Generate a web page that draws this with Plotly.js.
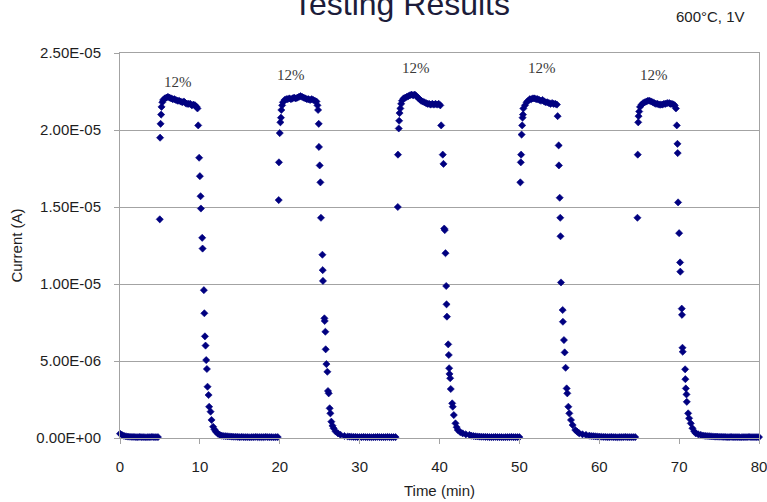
<!DOCTYPE html>
<html>
<head>
<meta charset="utf-8">
<script src="https://cdn.plot.ly/plotly-3.0.1.min.js"></script>
<style>
  html, body { margin: 0; padding: 0; background: #ffffff; }
  #chart { width: 767px; height: 502px; }
</style>
</head>
<body>
<div id="chart"></div>
<script>
// Sensor current under five 12% gas pulses at 600°C, 1V bias.
// Each cycle: baseline, gas on (rise + plateau), gas off (decay) and recovery.

const cycle1Time = [0,0.25,0.5,0.75,1,1.25,1.5,1.75,2,2.25,2.5,2.75,3,3.25,3.5,3.75,4,4.25,4.5,4.75,
  4.98,5.02,5.08,
  5.15,5.2,5.3,5.4,5.6,5.8,6.0,6.2,6.4,6.6,6.8,7.0,7.2,7.4,7.6,7.8,8.0,8.2,8.4,8.6,8.8,9.0,9.2,9.4,9.6,9.7,
  9.79,9.91,10.0,10.09,10.13,10.29,10.34,10.5,10.56,10.63,10.71,10.79,10.88,10.96,11.09,11.16,11.34,11.46,11.66,11.83,12.0,12.25,12.5,
  12.75,13,13.25,13.5,13.75,14,14.25,14.5,14.75];
const cycle1Current = [2.8e-7,2.0e-7,1.4e-7,1.1e-7,9e-8,8e-8,7e-8,7e-8,6e-8,6e-8,7e-8,6e-8,6e-8,5e-8,6e-8,6e-8,7e-8,6e-8,6e-8,6e-8,
  1.42e-5,1.95e-5,2.04e-5,
  2.10e-5,2.15e-5,2.18e-5,2.195e-5,2.205e-5,2.21e-5,2.215e-5,2.21e-5,2.205e-5,2.20e-5,2.20e-5,2.195e-5,2.19e-5,2.19e-5,2.185e-5,2.18e-5,2.185e-5,2.175e-5,2.17e-5,2.17e-5,2.17e-5,2.16e-5,2.165e-5,2.16e-5,2.15e-5,2.14e-5,
  2.03e-5,1.82e-5,1.70e-5,1.57e-5,1.49e-5,1.30e-5,1.23e-5,9.6e-6,8.1e-6,6.6e-6,6.0e-6,5.06e-6,4.48e-6,3.33e-6,2.79e-6,2.03e-6,1.71e-6,1.17e-6,7.3e-7,5.5e-7,4.1e-7,2.8e-7,2.0e-7,
  1.5e-7,1.3e-7,1.2e-7,1.1e-7,1.0e-7,9e-8,8e-8,8e-8,7e-8];

const cycle2Time = [15,15.25,15.5,15.75,16,16.25,16.5,16.75,17,17.25,17.5,17.75,18,18.25,18.5,18.75,19,19.25,19.5,19.75,
  19.87,19.9,20.0,20.08,20.15,
  20.2,20.3,20.4,20.6,20.8,21.0,21.2,21.4,21.6,21.8,22.0,22.2,22.4,22.6,22.8,23.0,23.2,23.4,23.6,23.8,24.0,24.2,24.4,24.6,24.72,24.8,
  24.88,24.91,25.0,25.09,25.16,25.34,25.38,25.41,25.59,25.63,25.71,25.75,25.84,25.96,26.04,26.13,26.25,26.34,26.46,26.6,26.75,27.0,27.29,27.6,28.1,
  28.5,28.75,29,29.25,29.5,29.75];
const cycle2Current = [6e-8,7e-8,6e-8,6e-8,6e-8,5e-8,6e-8,6e-8,7e-8,6e-8,6e-8,6e-8,6e-8,7e-8,6e-8,6e-8,6e-8,5e-8,6e-8,6e-8,
  1.545e-5,1.79e-5,1.98e-5,2.05e-5,2.08e-5,
  2.13e-5,2.16e-5,2.18e-5,2.195e-5,2.20e-5,2.20e-5,2.205e-5,2.20e-5,2.205e-5,2.21e-5,2.205e-5,2.21e-5,2.215e-5,2.22e-5,2.215e-5,2.21e-5,2.205e-5,2.20e-5,2.20e-5,2.195e-5,2.20e-5,2.195e-5,2.19e-5,2.185e-5,2.16e-5,2.13e-5,
  2.04e-5,1.89e-5,1.77e-5,1.66e-5,1.43e-5,1.19e-5,1.09e-5,1.02e-5,7.77e-6,7.6e-6,6.9e-6,5.76e-6,4.8e-6,4.3e-6,3.05e-6,2.9e-6,1.93e-6,1.6e-6,1.06e-6,8.0e-7,6.3e-7,4.2e-7,3.0e-7,2.1e-7,1.3e-7,
  1.0e-7,9e-8,8e-8,7e-8,7e-8,6e-8];

const cycle3Time = [30,30.25,30.5,30.75,31,31.25,31.5,31.75,32,32.25,32.5,32.75,33,33.25,33.5,33.75,34,34.25,34.5,
  34.78,34.8,34.9,34.95,35.0,
  35.1,35.2,35.3,35.5,35.7,35.9,36.1,36.3,36.5,36.7,36.9,37.1,37.3,37.5,37.7,37.9,38.1,38.3,38.5,38.7,38.9,39.1,39.3,39.5,39.7,39.9,40.1,
  40.21,40.41,40.5,40.59,40.66,40.75,40.84,40.88,40.93,41.09,41.16,41.21,41.25,41.34,41.41,41.59,41.66,41.79,42.0,42.15,42.29,42.6,42.91,43.3,43.75,
  44,44.25,44.5,44.75];
const cycle3Current = [6e-8,6e-8,7e-8,6e-8,6e-8,6e-8,5e-8,6e-8,6e-8,7e-8,6e-8,6e-8,6e-8,6e-8,7e-8,6e-8,6e-8,6e-8,6e-8,
  1.50e-5,1.84e-5,2.01e-5,2.06e-5,2.11e-5,
  2.14e-5,2.17e-5,2.19e-5,2.205e-5,2.21e-5,2.215e-5,2.22e-5,2.225e-5,2.23e-5,2.225e-5,2.23e-5,2.22e-5,2.21e-5,2.20e-5,2.19e-5,2.185e-5,2.18e-5,2.175e-5,2.17e-5,2.17e-5,2.165e-5,2.17e-5,2.165e-5,2.17e-5,2.165e-5,2.17e-5,2.16e-5,
  2.03e-5,1.84e-5,1.78e-5,1.36e-5,1.35e-5,1.20e-5,9.87e-6,8.68e-6,7.88e-6,6.08e-6,5.39e-6,4.53e-6,4.16e-6,3.88e-6,3.18e-6,2.25e-6,2.03e-6,1.49e-6,9.5e-7,7.0e-7,5.2e-7,3.8e-7,3.0e-7,2.4e-7,2.0e-7,
  1.5e-7,1.3e-7,1.1e-7,1.0e-7];

const cycle4Time = [45,45.25,45.5,45.75,46,46.25,46.5,46.75,47,47.25,47.5,47.75,48,48.25,48.5,48.75,49,49.25,49.5,49.75,50.0,
  50.12,50.18,50.22,50.28,50.35,50.4,50.45,
  50.5,50.7,50.9,51.1,51.3,51.5,51.7,51.9,52.1,52.3,52.5,52.7,52.9,53.1,53.3,53.5,53.7,53.9,54.1,54.3,54.5,54.7,
  54.79,54.92,54.95,55.05,55.12,55.15,55.21,55.42,55.45,55.58,55.67,55.79,55.92,56.0,56.13,56.25,56.46,56.67,57.0,57.25,57.5,57.9,58.34,
  58.75,59,59.25,59.5,59.75];
const cycle4Current = [9e-8,8e-8,8e-8,7e-8,7e-8,6e-8,6e-8,6e-8,7e-8,6e-8,6e-8,6e-8,5e-8,6e-8,6e-8,6e-8,7e-8,6e-8,6e-8,6e-8,6e-8,
  1.66e-5,1.79e-5,1.84e-5,1.97e-5,2.03e-5,2.08e-5,2.10e-5,
  2.14e-5,2.16e-5,2.18e-5,2.19e-5,2.20e-5,2.20e-5,2.205e-5,2.205e-5,2.20e-5,2.20e-5,2.195e-5,2.19e-5,2.195e-5,2.185e-5,2.18e-5,2.18e-5,2.175e-5,2.17e-5,2.175e-5,2.17e-5,2.17e-5,2.165e-5,
  2.09e-5,1.90e-5,1.77e-5,1.56e-5,1.43e-5,1.31e-5,1.01e-5,8.31e-6,7.55e-6,6.36e-6,5.56e-6,4.56e-6,3.22e-6,2.9e-6,2.03e-6,1.6e-6,1.17e-6,8.4e-7,5.2e-7,4.0e-7,3.0e-7,2.4e-7,2.0e-7,
  1.5e-7,1.3e-7,1.2e-7,1.1e-7,1.0e-7];

const cycle5Time = [60,60.25,60.5,60.75,61,61.25,61.5,61.75,62,62.25,62.5,62.75,63,63.25,63.5,63.75,64,64.25,64.5,
  64.78,64.82,64.88,64.92,65.0,
  65.1,65.3,65.5,65.7,65.9,66.1,66.3,66.5,66.7,66.9,67.1,67.3,67.5,67.7,67.9,68.1,68.3,68.5,68.75,68.9,69.1,69.3,69.45,69.6,
  69.71,69.79,69.82,69.87,70.0,70.12,70.15,70.33,70.36,70.42,70.45,70.75,70.78,70.84,70.92,70.96,71.13,71.25,71.46,71.67,71.9,72.09,72.4,72.71,
  73,73.25,73.5,73.75,74,74.25,74.5,74.75,75,75.25,75.5,75.75,76,76.25,76.5,76.75,77,77.25,77.5,77.75,78,78.25,78.5,78.75,79,79.25,79.5,79.75,80];
const cycle5Current = [9e-8,8e-8,7e-8,7e-8,6e-8,6e-8,7e-8,6e-8,6e-8,5e-8,6e-8,6e-8,6e-8,7e-8,6e-8,6e-8,6e-8,6e-8,6e-8,
  1.43e-5,1.84e-5,2.05e-5,2.09e-5,2.12e-5,
  2.15e-5,2.165e-5,2.175e-5,2.18e-5,2.185e-5,2.19e-5,2.19e-5,2.185e-5,2.18e-5,2.175e-5,2.17e-5,2.17e-5,2.165e-5,2.165e-5,2.165e-5,2.17e-5,2.17e-5,2.175e-5,2.175e-5,2.17e-5,2.17e-5,2.165e-5,2.16e-5,2.14e-5,
  2.03e-5,1.91e-5,1.85e-5,1.53e-5,1.33e-5,1.14e-5,1.08e-5,8.4e-6,8.0e-6,5.86e-6,5.6e-6,4.46e-6,3.82e-6,3.22e-6,2.83e-6,2.35e-6,1.6e-6,1.28e-6,9.5e-7,6.3e-7,4.2e-7,3.0e-7,2.4e-7,2.0e-7,
  1.6e-7,1.4e-7,1.3e-7,1.2e-7,1.1e-7,1.0e-7,9e-8,9e-8,8e-8,8e-8,7e-8,7e-8,6e-8,6e-8,7e-8,6e-8,6e-8,6e-8,6e-8,5e-8,6e-8,6e-8,6e-8,7e-8,6e-8,6e-8,6e-8,6e-8,6e-8];

// Gas concentration label above each pulse (time in min, current in A)
const pulseLabels = ['12%','12%','12%','12%','12%'];
const pulseLabelTime = [7.3, 21.45, 37.1, 52.8, 66.9];
const pulseLabelCurrent = [2.31e-5, 2.355e-5, 2.40e-5, 2.40e-5, 2.355e-5];

// Y axis ticks in Excel-style scientific notation
const yTickValues = [0, 5e-6, 1e-5, 1.5e-5, 2e-5, 2.5e-5];
const yTickLabels = ['0.00E+00','5.00E-06','1.00E-05','1.50E-05','2.00E-05','2.50E-05'];
const xTickValues = [0,10,20,30,40,50,60,70,80];

const timeMin = [].concat(cycle1Time, cycle2Time, cycle3Time, cycle4Time, cycle5Time);
const currentA = [].concat(cycle1Current, cycle2Current, cycle3Current, cycle4Current, cycle5Current);

const sans = 'Liberation Sans, Arial, sans-serif';
const frame = '#a3a3a3';

const trace = {
  x: timeMin,
  y: currentA,
  type: 'scatter',
  mode: 'markers',
  cliponaxis: false,
  marker: { symbol: 'diamond', size: 5.5, color: '#000080', line: { width: 0.6, color: '#000080' } },
  hoverinfo: 'x+y'
};

const annotations = pulseLabels.map((txt, i) => ({
  x: pulseLabelTime[i], y: pulseLabelCurrent[i], xref: 'x', yref: 'y',
  text: txt, showarrow: false, xanchor: 'center', yanchor: 'middle',
  font: { family: 'Liberation Serif, Times New Roman, serif', size: 15, color: '#3a3a3a' }
}));

// Chart title sits high, partly above the top edge of the page
annotations.push({
  x: 0.441, y: 1.128, xref: 'paper', yref: 'paper', xanchor: 'center', yanchor: 'middle',
  text: 'Testing Results', showarrow: false,
  font: { family: sans, size: 32, color: '#1c1c3a' }
});
annotations.push({
  x: 0.981, y: 1.096, xref: 'paper', yref: 'paper', xanchor: 'right', yanchor: 'middle',
  text: '600°C, 1V', showarrow: false,
  font: { family: sans, size: 15, color: '#222222' }
});

const layout = {
  width: 767,
  height: 502,
  margin: { l: 120, r: 8, t: 53, b: 64, pad: 0 },
  paper_bgcolor: '#ffffff',
  plot_bgcolor: '#ffffff',
  showlegend: false,
  font: { family: sans, color: '#222222' },
  xaxis: {
    range: [0, 80],
    tickmode: 'array',
    tickvals: xTickValues,
    ticks: 'outside', ticklen: 5, tickcolor: frame, tickwidth: 1,
    showline: true, linecolor: frame, linewidth: 1, mirror: true,
    showgrid: false, zeroline: false,
    ticklabelstandoff: 10,
    ticklabeloverflow: 'allow',
    tickfont: { family: sans, size: 15, color: '#1e1e1e' },
    title: { text: 'Time (min)', font: { family: sans, size: 15, color: '#1e1e1e' }, standoff: 11 }
  },
  yaxis: {
    range: [0, 2.5e-5],
    tickmode: 'array',
    tickvals: yTickValues,
    ticktext: yTickLabels,
    ticks: 'outside', ticklen: 5, tickcolor: frame, tickwidth: 1,
    showline: true, linecolor: frame, linewidth: 1, mirror: true,
    showgrid: true, gridcolor: frame, gridwidth: 1, zeroline: false,
    ticklabelstandoff: 10,
    ticklabeloverflow: 'allow',
    tickfont: { family: sans, size: 15, color: '#1e1e1e' },
    title: { text: 'Current (A)', font: { family: sans, size: 15, color: '#1e1e1e' }, standoff: 10 }
  },
  annotations: annotations
};

Plotly.newPlot('chart', [trace], layout, { displayModeBar: false, staticPlot: true });
</script>
</body>
</html>
